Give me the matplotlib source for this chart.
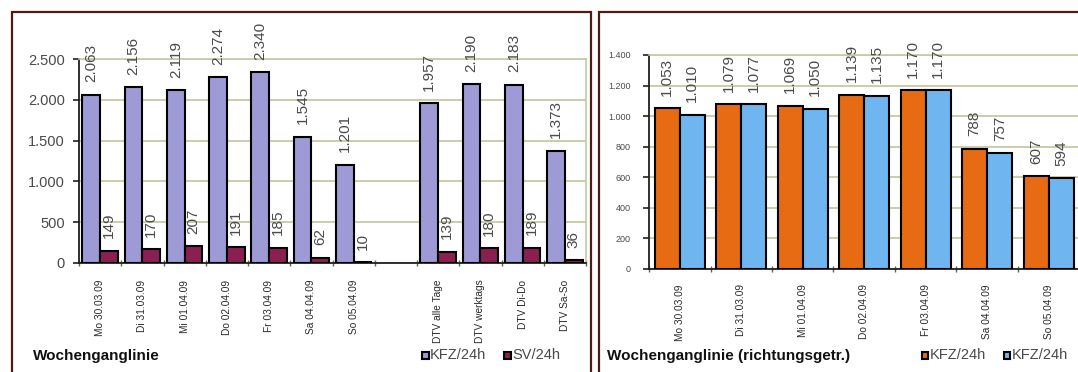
import numpy as np
import matplotlib
matplotlib.use("Agg")
import matplotlib.pyplot as plt
from matplotlib.patches import Rectangle

plt.rcParams['font.family'] = ['Liberation Sans', 'DejaVu Sans']

# ---------------- data ----------------
left_categories = ["Mo 30.03.09", "Di 31.03.09", "Mi 01.04.09", "Do 02.04.09",
                   "Fr 03.04.09", "Sa 04.04.09", "So 05.04.09", "",
                   "DTV alle Tage", "DTV werktags", "DTV Di-Do", "DTV Sa-So"]
kfz_total = [2063, 2156, 2119, 2274, 2340, 1545, 1201, np.nan, 1957, 2190, 2183, 1373]
sv_total = [149, 170, 207, 191, 185, 62, 10, np.nan, 139, 180, 189, 36]
left_yticks = [0, 500, 1000, 1500, 2000, 2500]

right_categories = ["Mo 30.03.09", "Di 31.03.09", "Mi 01.04.09", "Do 02.04.09",
                    "Fr 03.04.09", "Sa 04.04.09", "So 05.04.09"]
kfz_dir1 = [1053, 1079, 1069, 1139, 1170, 788, 607]
kfz_dir2 = [1010, 1077, 1050, 1135, 1170, 757, 594]
right_yticks = [0, 200, 400, 600, 800, 1000, 1200, 1400]

left_title = "Wochenganglinie"
right_title = "Wochenganglinie (richtungsgetr.)"
left_legend = ["KFZ/24h", "SV/24h"]
right_legend = ["KFZ/24h", "KFZ/24h"]

# ---------------- style ----------------
C_KFZ = "#9d9ad6"
C_SV = "#8c1f52"
C_OR = "#e66b12"
C_BL = "#6fb6f0"
GRID = "#c8c8a2"
TXT = "#4a4a4a"
FRAME = "#4a1e14"


def fmt(v):
    return f"{int(v):,}".replace(",", ".")


fig = plt.figure(figsize=(10.78, 3.72), dpi=100)
W, H = 1078.0, 372.0


def px_rect(x0, y0, x1, y1):
    return Rectangle((x0 / W, 1 - y1 / H), (x1 - x0) / W, (y1 - y0) / H,
                     transform=fig.transFigure, fill=False,
                     edgecolor=FRAME, linewidth=1.6, clip_on=False)


fig.add_artist(px_rect(12, 12, 591, 400))
fig.add_artist(px_rect(599, 12, 1100, 400))


def style_axes(ax, n, yticks, ytick_fs, ylim):
    ax.set_xlim(-0.5, n - 0.5)
    ax.set_ylim(*ylim)
    ax.set_yticks(yticks)
    ax.set_yticklabels([fmt(v) for v in yticks], fontsize=ytick_fs, color=TXT)
    ax.yaxis.grid(True, color=GRID, linewidth=1.3)
    ax.set_axisbelow(True)
    for s in ("top", "right"):
        ax.spines[s].set_color(GRID)
        ax.spines[s].set_linewidth(1.2)
    for s in ("left", "bottom"):
        ax.spines[s].set_color("#202020")
        ax.spines[s].set_linewidth(1.3)
    ax.tick_params(axis='y', length=4, width=1.2, pad=6, color="#202020")
    ax.set_xticks(np.arange(-0.5, n, 1.0), minor=True)
    ax.tick_params(axis='x', which='minor', length=4, direction='inout', width=1, color="#606060")


def add_labels(ax, xs, vals, fs):
    for xx, v in zip(xs, vals):
        if np.isnan(v):
            continue
        ax.annotate(fmt(v), xy=(xx, v), xytext=(0, 9), textcoords='offset points',
                    rotation=90, ha='center', va='bottom', fontsize=fs, color=TXT,
                    annotation_clip=False)


# ---------------- left chart ----------------
axL = fig.add_axes([79 / W, 1 - 263 / H, (586 - 79) / W, (263 - 59) / H])
nL = len(left_categories)
xL = np.arange(nL)
bw = 0.42
axL.bar(xL - bw / 2, kfz_total, bw, color=C_KFZ, edgecolor="black", linewidth=1.5, zorder=3)
axL.bar(xL + bw / 2, sv_total, bw, color=C_SV, edgecolor="black", linewidth=1.5, zorder=3)
style_axes(axL, nL, left_yticks, 10.5, (0, 2500))
axL.set_xticks(xL)
axL.set_xticklabels(left_categories, rotation=90, fontsize=7.3, va='top', color="#2a2a2a")
axL.tick_params(axis='x', which='major', length=0, pad=12)
add_labels(axL, xL - bw / 2, kfz_total, 11)
add_labels(axL, xL + bw / 2, sv_total, 11)

# ---------------- right chart ----------------
axR = fig.add_axes([649 / W, 1 - 269 / H, 430.5 / W, (269 - 55) / H])
nR = len(right_categories)
xR = np.arange(nR)
bw2 = 0.41
axR.bar(xR - bw2 / 2, kfz_dir1, bw2, color=C_OR, edgecolor="black", linewidth=1.5, zorder=3)
axR.bar(xR + bw2 / 2, kfz_dir2, bw2, color=C_BL, edgecolor="black", linewidth=1.5, zorder=3)
style_axes(axR, nR, right_yticks, 6.5, (0, 1400))
axR.tick_params(axis='y', pad=9)
axR.set_xticks(xR)
axR.set_xticklabels(right_categories, rotation=90, fontsize=7.3, va='top', color="#2a2a2a")
axR.tick_params(axis='x', which='major', length=0, pad=11)
add_labels(axR, xR - bw2 / 2, kfz_dir1, 11)
add_labels(axR, xR + bw2 / 2, kfz_dir2, 11)

# ---------------- titles & legends ----------------
fig.text(33 / W, 1 - 356 / H, left_title, fontsize=11, fontweight='bold',
         color="#111111", va='center', ha='left')
fig.text(607 / W, 1 - 356 / H, right_title, fontsize=11, fontweight='bold',
         color="#111111", va='center', ha='left')


def legend_item(x_px, color, label):
    s = 7
    fig.add_artist(Rectangle(((x_px - s / 2) / W, 1 - (355 + s / 2) / H), s / W, s / H,
                             transform=fig.transFigure, facecolor=color,
                             edgecolor="black", linewidth=1.5))
    fig.text((x_px + 5) / W, 1 - 355 / H, label, fontsize=10.5, color=TXT,
             va='center', ha='left')


legend_item(425, C_KFZ, left_legend[0])
legend_item(507, C_SV, left_legend[1])
legend_item(925, C_OR, right_legend[0])
legend_item(1007, C_BL, right_legend[1])

fig.savefig("out.png", dpi=100)
